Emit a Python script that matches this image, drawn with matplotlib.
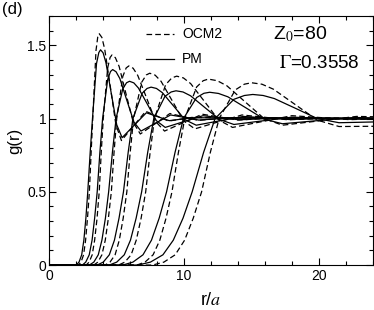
import matplotlib
matplotlib.use("Agg")
import matplotlib.pyplot as plt
from matplotlib.ticker import MultipleLocator
from matplotlib.lines import Line2D

plt.rcParams['font.family'] = ['Liberation Sans', 'DejaVu Sans']
plt.rcParams['mathtext.fontset'] = 'stix'

# g(r), seven densities, PM (solid) and OCM2 (dashed)
pm_r = [
    [0, 2.0, 2.2, 2.4, 2.56, 2.71, 2.85, 3.03, 3.2, 3.5, 3.67, 3.8, 3.99, 4.2, 4.6, 5.0, 5.4, 6.3, 7.2, 8.05, 8.9, 10.6, 24.5],
    [0, 2.45, 2.7, 2.96, 3.17, 3.36, 3.55, 3.75, 3.95, 4.33, 4.54, 4.7, 4.95, 5.23, 5.75, 6.28, 6.8, 7.9, 9.0, 10.05, 11.1, 13.2, 24.5],
    [0, 2.97, 3.3, 3.63, 3.9, 4.16, 4.4, 4.68, 4.95, 5.45, 5.73, 5.95, 6.27, 6.61, 7.28, 7.94, 8.6, 10.0, 11.4, 12.75, 14.1, 16.8, 24.5],
    [0, 3.55, 4.0, 4.45, 4.83, 5.17, 5.5, 5.85, 6.2, 6.88, 7.25, 7.55, 7.95, 8.39, 9.23, 10.06, 10.9, 12.65, 14.4, 16.1, 17.8, 21.2, 24.5],
    [0, 4.45, 5.0, 5.56, 6.02, 6.44, 6.85, 7.3, 7.75, 8.58, 9.04, 9.4, 9.92, 10.48, 11.55, 12.63, 13.7, 15.85, 18.0, 20.15, 22.3, 24.5],
    [0, 5.45, 6.2, 6.95, 7.58, 8.15, 8.7, 9.33, 9.95, 10.93, 11.47, 11.9, 12.55, 13.25, 14.6, 15.95, 17.3, 20.0, 22.7, 24.5],
    [0, 6.57, 7.5, 8.43, 9.2, 9.92, 10.6, 11.45, 12.3, 13.7, 14.48, 15.1, 15.87, 16.7, 18.3, 19.9, 21.5, 24.5],
]
pm_g = [
    [0, 0, 0.02, 0.07, 0.17, 0.32, 0.5, 0.77, 1.0, 1.376, 1.451, 1.47, 1.449, 1.382, 1.17, 0.958, 0.87, 0.955, 1.04, 1.013, 0.986, 1.006, 1.0],
    [0, 0, 0.02, 0.07, 0.17, 0.32, 0.5, 0.77, 1.0, 1.268, 1.322, 1.335, 1.32, 1.274, 1.125, 0.976, 0.915, 0.97, 1.025, 1.008, 0.99, 1.004, 1.0],
    [0, 0, 0.02, 0.07, 0.17, 0.32, 0.5, 0.77, 1.0, 1.204, 1.245, 1.255, 1.244, 1.209, 1.098, 0.986, 0.94, 0.98, 1.02, 1.006, 0.992, 1.003, 1.0],
    [0, 0, 0.02, 0.07, 0.17, 0.32, 0.5, 0.77, 1.0, 1.172, 1.206, 1.215, 1.206, 1.177, 1.085, 0.993, 0.955, 0.985, 1.015, 1.005, 0.994, 1.002, 1.0],
    [0, 0, 0.02, 0.07, 0.17, 0.32, 0.5, 0.77, 1.0, 1.152, 1.182, 1.19, 1.182, 1.156, 1.075, 0.994, 0.96, 0.985, 1.01, 1.003, 0.996, 1.0],
    [0, 0, 0.02, 0.07, 0.17, 0.32, 0.5, 0.77, 1.0, 1.144, 1.173, 1.18, 1.172, 1.149, 1.073, 0.996, 0.965, 0.987, 1.008, 1.004],
    [0, 0, 0.02, 0.07, 0.17, 0.32, 0.5, 0.77, 1.0, 1.132, 1.158, 1.165, 1.158, 1.137, 1.069, 1.0, 0.972, 0.978],
]
ocm2_r = [
    [0, 2.16, 2.35, 2.54, 2.69, 2.83, 2.97, 3.1, 3.22, 3.46, 3.59, 3.7, 3.9, 4.11, 4.53, 4.94, 5.35, 6.25, 7.15, 8.0, 8.85, 10.55, 24.5],
    [0, 2.73, 2.95, 3.18, 3.36, 3.54, 3.7, 3.85, 4.0, 4.33, 4.51, 4.65, 4.9, 5.18, 5.7, 6.23, 6.75, 7.85, 8.95, 10.0, 11.05, 13.15, 24.5],
    [0, 3.3, 3.6, 3.9, 4.15, 4.38, 4.6, 4.8, 5.0, 5.45, 5.7, 5.9, 6.22, 6.56, 7.23, 7.89, 8.55, 9.95, 11.35, 12.7, 14.0, 16.65, 24.5],
    [0, 4.13, 4.5, 4.88, 5.19, 5.48, 5.75, 6.0, 6.25, 6.85, 7.19, 7.45, 7.85, 8.29, 9.13, 9.96, 10.8, 12.55, 14.3, 16.0, 17.7, 21.1, 24.5],
    [0, 5.14, 5.6, 6.07, 6.45, 6.81, 7.15, 7.48, 7.8, 8.63, 9.09, 9.45, 9.95, 10.49, 11.53, 12.56, 13.6, 15.8, 18.0, 20.15, 22.3, 24.5],
    [0, 6.5, 7.1, 7.7, 8.2, 8.66, 9.1, 9.58, 10.05, 10.93, 11.42, 11.8, 12.46, 13.18, 14.55, 15.93, 17.3, 20.05, 22.8, 24.5],
    [0, 7.66, 8.5, 9.34, 10.04, 10.68, 11.3, 11.95, 12.6, 13.8, 14.47, 15.0, 15.78, 16.63, 18.25, 19.88, 21.5, 24.5],
]
ocm2_g = [
    [0, 0, 0.02, 0.07, 0.17, 0.32, 0.5, 0.77, 1.0, 1.464, 1.557, 1.58, 1.554, 1.473, 1.215, 0.957, 0.85, 0.95, 1.05, 1.017, 0.983, 1.008, 1.0],
    [0, 0, 0.02, 0.07, 0.17, 0.32, 0.5, 0.77, 1.0, 1.348, 1.418, 1.435, 1.416, 1.356, 1.165, 0.974, 0.895, 0.965, 1.035, 1.012, 0.988, 1.005, 1.0],
    [0, 0, 0.02, 0.07, 0.17, 0.32, 0.5, 0.77, 1.0, 1.288, 1.346, 1.36, 1.344, 1.295, 1.138, 0.98, 0.915, 0.973, 1.03, 1.01, 0.99, 1.005, 1.0],
    [0, 0, 0.02, 0.07, 0.17, 0.32, 0.5, 0.77, 1.0, 1.248, 1.298, 1.31, 1.297, 1.255, 1.12, 0.985, 0.93, 0.978, 1.025, 1.009, 0.992, 1.004, 1.0],
    [0, 0, 0.02, 0.07, 0.17, 0.32, 0.5, 0.77, 1.0, 1.232, 1.278, 1.29, 1.278, 1.239, 1.115, 0.991, 0.94, 0.98, 1.02, 1.007, 0.993, 1.0],
    [0, 0, 0.02, 0.07, 0.17, 0.32, 0.5, 0.77, 1.0, 1.216, 1.259, 1.27, 1.259, 1.224, 1.113, 1.001, 0.955, 0.985, 1.015, 1.012],
    [0, 0, 0.02, 0.07, 0.17, 0.32, 0.5, 0.77, 1.0, 1.196, 1.235, 1.245, 1.235, 1.201, 1.096, 0.99, 0.946, 0.948],
]

fig = plt.figure(figsize=(3.74, 3.10), dpi=100)
ax = fig.add_axes([0.132, 0.145, 0.8645, 0.803])

for r, g in zip(ocm2_r, ocm2_g):
    ax.plot(r, g, color='black', lw=0.9, dashes=(4.5, 2.5))
for r, g in zip(pm_r, pm_g):
    ax.plot(r, g, color='black', lw=0.9)

ax.set_xlim(0, 24)
ax.set_ylim(0, 1.7)
ax.xaxis.set_major_locator(MultipleLocator(10))
ax.xaxis.set_minor_locator(MultipleLocator(2))
ax.yaxis.set_major_locator(MultipleLocator(0.5))
ax.yaxis.set_minor_locator(MultipleLocator(0.1))
ax.set_yticks([0, 0.5, 1, 1.5])
ax.set_yticklabels(['0', '0.5', '1', '1.5'])
ax.tick_params(which='both', direction='in', top=True, right=True, labelsize=10)
ax.tick_params(which='major', length=5, width=0.8)
ax.tick_params(which='minor', length=3, width=0.8)
ax.tick_params(axis='x', pad=3)
ax.tick_params(axis='y', pad=2)

ax.set_xlabel(r'r/$a$', fontsize=13, labelpad=6)
ax.set_ylabel('g(r)', fontsize=12, labelpad=4)

handles = [Line2D([], [], color='black', lw=0.9, dashes=(4.5, 2.5)),
           Line2D([], [], color='black', lw=0.9)]
ax.legend(handles, ['OCM2', 'PM'], loc='upper left', bbox_to_anchor=(0.26, 1.005),
          frameon=False, fontsize=10, handlelength=2.0, handletextpad=0.6,
          labelspacing=0.8, borderpad=0.4)

ax.text(16.6, 1.545, r'Z$_0$=80', fontsize=14, ha='left', va='baseline')
ax.text(23.0, 1.347, r'$\Gamma$=0.3558', fontsize=13.5, ha='right', va='baseline')

fig.text(0.005, 0.995, '(d)', fontsize=12, ha='left', va='top')

fig.savefig('out.png', dpi=100)
